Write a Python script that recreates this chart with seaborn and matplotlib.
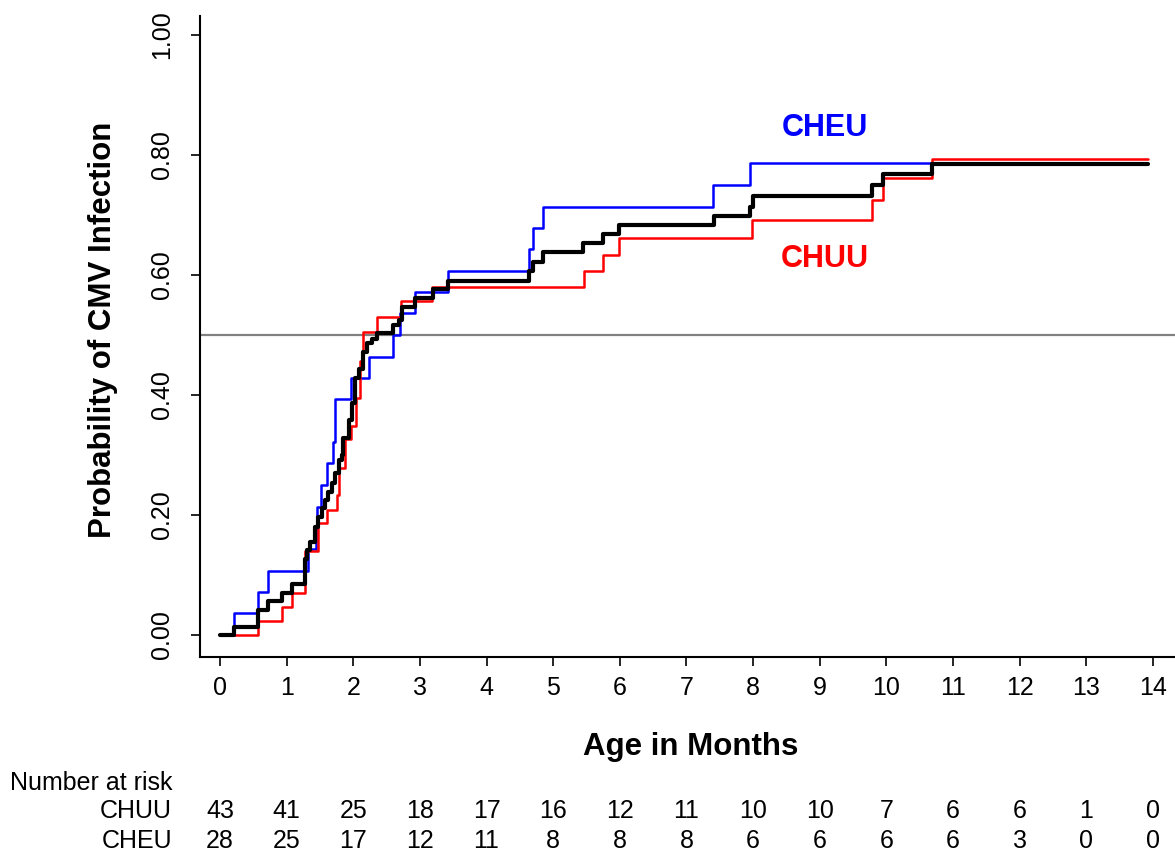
import numpy as np
import pandas as pd
import matplotlib
matplotlib.use("Agg")
import matplotlib.pyplot as plt
import seaborn as sns
from matplotlib.transforms import blended_transform_factory

# ---------------- data ----------------
cheu_time = [0, 0.21, 0.575, 0.715, 1.325, 1.44, 1.46, 1.52, 1.60, 1.69, 1.725, 1.73,
             1.97, 2.23, 2.59, 2.70, 2.92, 3.42, 4.63, 4.69, 4.84, 7.40, 7.96, 12.6]
cheu_prob = [0, 0.036, 0.071, 0.107, 0.143, 0.179, 0.214, 0.25, 0.286, 0.321, 0.357, 0.393,
             0.429, 0.464, 0.5, 0.536, 0.571, 0.607, 0.643, 0.679, 0.714, 0.75, 0.786, 0.786]

chuu_time = [0, 0.575, 0.935, 1.075, 1.275, 1.47, 1.60, 1.76, 1.79, 1.88, 1.97, 2.04,
             2.10, 2.15, 2.36, 2.71, 3.18, 5.46, 5.74, 5.99, 7.99, 9.78, 9.95, 10.68, 13.93]
chuu_prob = [0, 0.023, 0.047, 0.070, 0.140, 0.186, 0.209, 0.233, 0.279, 0.326, 0.349, 0.395,
             0.457, 0.505, 0.530, 0.556, 0.580, 0.607, 0.633, 0.661, 0.692, 0.725, 0.761, 0.793, 0.793]

all_time = [0, 0.21, 0.575, 0.725, 0.935, 1.075, 1.275, 1.30, 1.35, 1.425, 1.475, 1.525,
            1.575, 1.625, 1.675, 1.72, 1.78, 1.83, 1.85, 1.93, 1.98, 2.03, 2.09, 2.15,
            2.21, 2.28, 2.35, 2.60, 2.68, 2.73, 2.92, 3.19, 3.42, 4.63, 4.70, 4.84, 5.45,
            5.74, 5.99, 7.41, 7.96, 8.00, 9.78, 9.95, 10.68, 13.93]
all_prob = [0, 0.014, 0.042, 0.056, 0.070, 0.085, 0.127, 0.141, 0.155, 0.180, 0.197, 0.211,
            0.225, 0.239, 0.254, 0.270, 0.292, 0.300, 0.328, 0.358, 0.386, 0.428, 0.444, 0.472,
            0.486, 0.494, 0.503, 0.517, 0.525, 0.546, 0.561, 0.577, 0.590, 0.606, 0.622, 0.638, 0.653,
            0.668, 0.683, 0.698, 0.714, 0.732, 0.750, 0.768, 0.785, 0.785]

risk_times = list(range(15))
chuu_risk = [43, 41, 25, 18, 17, 16, 12, 11, 10, 10, 7, 6, 6, 1, 0]
cheu_risk = [28, 25, 17, 12, 11, 8, 8, 8, 6, 6, 6, 6, 3, 0, 0]

x_ticks = list(range(15))
y_ticks = [0.0, 0.2, 0.4, 0.6, 0.8, 1.0]

# ---------------- style ----------------
sns.set_style("ticks")
plt.rcParams['font.family'] = ['Liberation Sans', 'DejaVu Sans']
plt.rcParams['text.color'] = 'black'
plt.rcParams['axes.labelcolor'] = 'black'
plt.rcParams['xtick.color'] = 'black'
plt.rcParams['ytick.color'] = 'black'
plt.rcParams['axes.edgecolor'] = 'black'

W, H = 1175, 852
fig = plt.figure(figsize=(W / 100, H / 100), dpi=100)
ax = fig.add_axes([200 / W, 1 - 657 / H, 975 / W, (657 - 16) / H])

ax.axhline(0.5, color='#808080', lw=1.6, zorder=1)

curves = [
    (cheu_time, cheu_prob, '#0000FF', 1.8, 2),
    (chuu_time, chuu_prob, '#FF0000', 1.8, 3),
    (all_time, all_prob, '#000000', 3.0, 4),
]
for t, p, c, lw, z in curves:
    df = pd.DataFrame({'t': t, 'p': p})
    sns.lineplot(data=df, x='t', y='p', drawstyle='steps-post', color=c, lw=lw,
                 ax=ax, estimator=None, sort=False, zorder=z)

ax.set_xlim((200 - 220) / 66.64, (1175 - 220) / 66.64)
ax.set_ylim((635 - 657) / 600, (635 - 16) / 600)
ax.set_xlabel('')
ax.set_ylabel('')

ax.set_xticks(x_ticks)
ax.set_xticklabels([str(v) for v in x_ticks])
ax.set_yticks(y_ticks)
ax.set_yticklabels([f"{v:.2f}" for v in y_ticks], rotation=90, va='center')

ax.tick_params(axis='both', labelsize=18, length=6.5, width=1.2, direction='out',
               color='black', labelcolor='black')
ax.tick_params(axis='x', pad=7)
ax.tick_params(axis='y', pad=12)

sns.despine(ax=ax)
for s in ['left', 'bottom']:
    ax.spines[s].set_linewidth(1.5)
    ax.spines[s].set_color('black')

# group labels
ax.text((825 - 220) / 66.64, (635 - 128) / 600, 'CHEU', color='#0000FF',
        fontsize=22, fontweight='bold', ha='center', va='center')
ax.text((825 - 220) / 66.64, (635 - 259) / 600, 'CHUU', color='#FF0000',
        fontsize=22, fontweight='bold', ha='center', va='center')

# axis titles
fig.text(691 / W, 1 - 747 / H, 'Age in Months', fontsize=22.5, fontweight='bold',
         ha='center', va='center', color='black')
fig.text(103 / W, 1 - 330 / H, 'Probability of CMV Infection', fontsize=22.5,
         fontweight='bold', ha='center', va='center', rotation=90, color='black')

# number at risk table
fig.text(10 / W, 1 - 783 / H, 'Number at risk', fontsize=18, ha='left', va='center', color='black')
fig.text(172 / W, 1 - 811 / H, 'CHUU', fontsize=18, ha='right', va='center', color='black')
fig.text(172 / W, 1 - 841 / H, 'CHEU', fontsize=18, ha='right', va='center', color='black')
tr = blended_transform_factory(ax.transData, fig.transFigure)
for x, a, b in zip(risk_times, chuu_risk, cheu_risk):
    ax.text(x, 1 - 811 / H, str(a), transform=tr, fontsize=18, ha='center', va='center',
            clip_on=False, color='black')
    ax.text(x, 1 - 841 / H, str(b), transform=tr, fontsize=18, ha='center', va='center',
            clip_on=False, color='black')

fig.savefig('out.png', dpi=100)
